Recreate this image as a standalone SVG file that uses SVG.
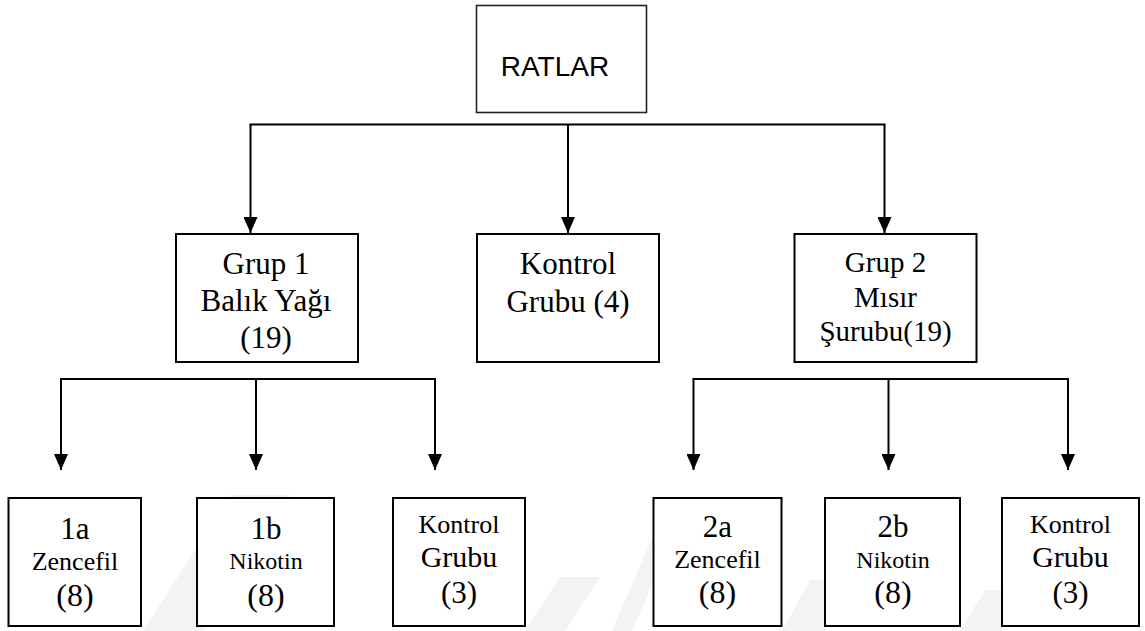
<svg xmlns="http://www.w3.org/2000/svg" width="1145" height="631" viewBox="0 0 1145 631">
<style>
.box{fill:#fff;stroke:#000;stroke-width:2}
.root{fill:#fff;stroke:#222;stroke-width:1.6}
.ln{stroke:#000;stroke-width:2;fill:none}
.wm{fill:#f3f3f3}
.t{font-family:"Liberation Serif","Times New Roman",serif;fill:#000;text-anchor:middle}
.a{font-family:"Liberation Sans",Arial,sans-serif;fill:#000;text-anchor:middle}
</style>
<defs>
<marker id="arr" viewBox="0 -7 16 14" refX="16" refY="0" markerWidth="16" markerHeight="14" markerUnits="userSpaceOnUse" orient="auto">
<path d="M0,-7 L16,0 L0,7 z" fill="#000"/>
</marker>
</defs>
<rect width="1145" height="631" fill="#fff"/>
<g id="watermark">
<polygon class="wm" points="143,631 230,495 290,495 203,631"/>
<polygon class="wm" points="525,631 560,577 600,577 565,631"/>
<polygon class="wm" points="612,631 660,520 680,520 632,631"/>
<polygon class="wm" points="782,631 810,580 825,580 825,631"/>
<polygon class="wm" points="960,631 985,590 1002,590 1002,631"/>
</g>
<g id="connectors">
<line class="ln" x1="249.5" y1="124.5" x2="885.5" y2="124.5"/>
<line class="ln" x1="250.5" y1="124.5" x2="250.5" y2="233" marker-end="url(#arr)"/>
<line class="ln" x1="568" y1="124.5" x2="568" y2="233" marker-end="url(#arr)"/>
<line class="ln" x1="884.5" y1="124.5" x2="884.5" y2="233" marker-end="url(#arr)"/>
<line class="ln" x1="60" y1="379" x2="436" y2="379"/>
<line class="ln" x1="61" y1="379" x2="61" y2="470" marker-end="url(#arr)"/>
<line class="ln" x1="256" y1="379" x2="256" y2="470" marker-end="url(#arr)"/>
<line class="ln" x1="435" y1="379" x2="435" y2="470" marker-end="url(#arr)"/>
<line class="ln" x1="692.5" y1="379" x2="1069" y2="379"/>
<line class="ln" x1="693.5" y1="379" x2="693.5" y2="470" marker-end="url(#arr)"/>
<line class="ln" x1="888.5" y1="379" x2="888.5" y2="470" marker-end="url(#arr)"/>
<line class="ln" x1="1068" y1="379" x2="1068" y2="470" marker-end="url(#arr)"/>
</g>
<g id="ratlar">
<rect class="root" x="476.5" y="5.5" width="170" height="107"/>
<text class="a" x="555" y="76" font-size="28">RATLAR</text>
</g>
<g id="grup1">
<rect class="box" x="176" y="234" width="182" height="128"/>
<text class="t" x="266" y="274" font-size="31">Grup 1</text>
<text class="t" x="266" y="311" font-size="31">Balık Yağı</text>
<text class="t" x="266" y="347.5" font-size="31">(19)</text>
</g>
<g id="kontrol">
<rect class="box" x="477" y="234" width="182" height="128"/>
<text class="t" x="568" y="274" font-size="31">Kontrol</text>
<text class="t" x="568" y="311.5" font-size="31">Grubu (4)</text>
</g>
<g id="grup2">
<rect class="box" x="794.5" y="234" width="182" height="128"/>
<text class="t" x="885.5" y="272" font-size="29">Grup 2</text>
<text class="t" x="885.5" y="307" font-size="29">Mısır</text>
<text class="t" x="885.5" y="341" font-size="29">Şurubu(19)</text>
</g>
<g id="n1a">
<rect class="box" x="8.5" y="498" width="132.5" height="128"/>
<text class="t" x="75" y="539" font-size="31">1a</text>
<text class="t" x="75" y="570" font-size="26">Zencefil</text>
<text class="t" x="75" y="606" font-size="32">(8)</text>
</g>
<g id="n1b">
<rect class="box" x="197" y="498" width="137" height="128"/>
<text class="t" x="266" y="539" font-size="31">1b</text>
<text class="t" x="266" y="569" font-size="24">Nikotin</text>
<text class="t" x="266" y="606" font-size="32">(8)</text>
</g>
<g id="k1">
<rect class="box" x="393" y="498" width="132" height="128"/>
<text class="t" x="459" y="533" font-size="26">Kontrol</text>
<text class="t" x="459" y="567" font-size="30">Grubu</text>
<text class="t" x="459" y="603" font-size="31">(3)</text>
</g>
<g id="n2a">
<rect class="box" x="653.5" y="498" width="128" height="128"/>
<text class="t" x="717.5" y="537" font-size="31">2a</text>
<text class="t" x="717.5" y="568" font-size="26">Zencefil</text>
<text class="t" x="717.5" y="603" font-size="32">(8)</text>
</g>
<g id="n2b">
<rect class="box" x="825" y="498" width="135" height="128"/>
<text class="t" x="893" y="537" font-size="31">2b</text>
<text class="t" x="893" y="568" font-size="24">Nikotin</text>
<text class="t" x="893" y="603" font-size="32">(8)</text>
</g>
<g id="k2">
<rect class="box" x="1002" y="498" width="137" height="128"/>
<text class="t" x="1070.5" y="533" font-size="26">Kontrol</text>
<text class="t" x="1070.5" y="567" font-size="30">Grubu</text>
<text class="t" x="1070.5" y="603" font-size="31">(3)</text>
</g>
</svg>
